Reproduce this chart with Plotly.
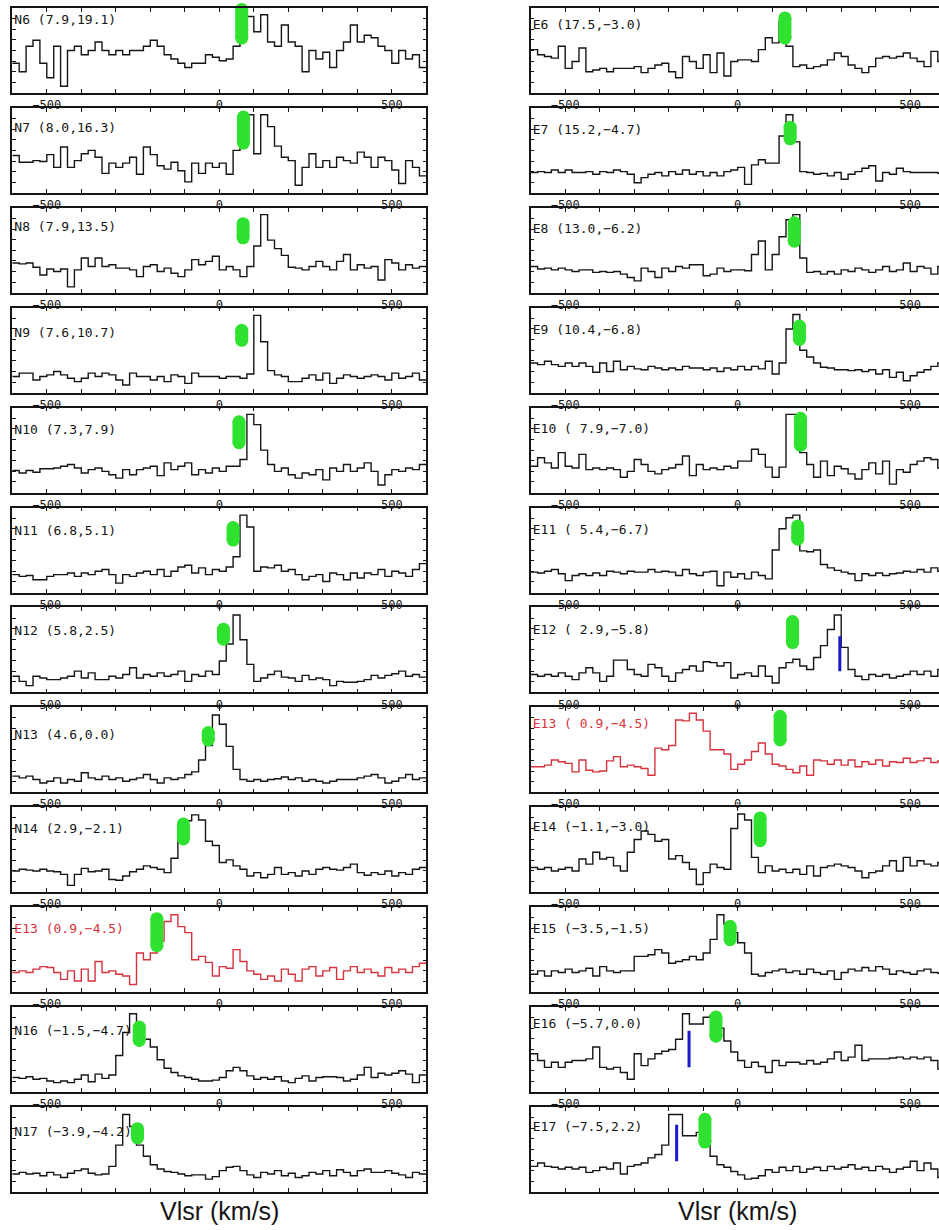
import plotly.graph_objects as go

# ---------------- data ----------------
velocity = [-590, -570, -550, -530, -510, -490, -470, -450, -430, -410,
            -390, -370, -350, -330, -310, -290, -270, -250, -230, -210,
            -190, -170, -150, -130, -110, -90, -70, -50, -30, -10,
            10, 30, 50, 70, 90, 110, 130, 150, 170, 190,
            210, 230, 250, 270, 290, 310, 330, 350, 370, 390,
            410, 430, 450, 470, 490, 510, 530, 550, 570, 590]

x_tick_values = [-500, -400, -300, -200, -100, 0, 100, 200, 300, 400, 500]
x_tick_labels = ["\u2212500", "", "", "", "", "0", "", "", "", "", "500"]

# left column spectra (normalised to panel height)
n6 = [0.35, 0.25, 0.55, 0.62, 0.35, 0.18, 0.55, 0.08, 0.50, 0.55,
      0.45, 0.50, 0.60, 0.50, 0.45, 0.50, 0.45, 0.50, 0.50, 0.55,
      0.62, 0.55, 0.45, 0.40, 0.35, 0.30, 0.35, 0.35, 0.45, 0.42,
      0.38, 0.40, 0.55, 0.75, 0.90, 0.72, 0.92, 0.60, 0.55, 0.80,
      0.60, 0.55, 0.25, 0.50, 0.40, 0.48, 0.30, 0.50, 0.60, 0.80,
      0.60, 0.68, 0.65, 0.55, 0.50, 0.35, 0.50, 0.40, 0.45, 0.30]
n7 = [0.44, 0.36, 0.36, 0.38, 0.37, 0.45, 0.30, 0.54, 0.30, 0.38,
      0.46, 0.50, 0.42, 0.23, 0.35, 0.30, 0.35, 0.42, 0.22, 0.54,
      0.45, 0.32, 0.28, 0.36, 0.26, 0.13, 0.35, 0.23, 0.35, 0.30,
      0.35, 0.22, 0.50, 0.58, 0.92, 0.46, 0.92, 0.78, 0.55, 0.42,
      0.38, 0.09, 0.30, 0.46, 0.30, 0.38, 0.30, 0.42, 0.38, 0.35,
      0.48, 0.42, 0.30, 0.42, 0.38, 0.27, 0.11, 0.38, 0.30, 0.20]
n8 = [0.35, 0.34, 0.35, 0.30, 0.21, 0.28, 0.25, 0.28, 0.07, 0.27,
      0.41, 0.31, 0.41, 0.31, 0.33, 0.29, 0.29, 0.27, 0.19, 0.31,
      0.33, 0.25, 0.29, 0.23, 0.19, 0.27, 0.39, 0.33, 0.37, 0.43,
      0.27, 0.31, 0.27, 0.19, 0.31, 0.55, 0.92, 0.62, 0.52, 0.44,
      0.30, 0.29, 0.27, 0.31, 0.37, 0.31, 0.27, 0.37, 0.45, 0.27,
      0.33, 0.29, 0.31, 0.15, 0.39, 0.35, 0.27, 0.33, 0.29, 0.31]
n9 = [0.19, 0.23, 0.23, 0.15, 0.19, 0.21, 0.25, 0.21, 0.17, 0.13,
      0.17, 0.23, 0.19, 0.23, 0.21, 0.15, 0.09, 0.23, 0.19, 0.19,
      0.15, 0.19, 0.13, 0.21, 0.19, 0.11, 0.23, 0.19, 0.19, 0.19,
      0.17, 0.19, 0.19, 0.17, 0.22, 0.91, 0.60, 0.26, 0.21, 0.19,
      0.13, 0.13, 0.17, 0.21, 0.15, 0.23, 0.11, 0.17, 0.21, 0.19,
      0.17, 0.19, 0.21, 0.19, 0.15, 0.23, 0.17, 0.19, 0.23, 0.15]
n10 = [0.26, 0.23, 0.26, 0.24, 0.28, 0.28, 0.29, 0.31, 0.33, 0.29,
       0.23, 0.27, 0.29, 0.25, 0.21, 0.17, 0.27, 0.21, 0.27, 0.29,
       0.31, 0.20, 0.35, 0.27, 0.31, 0.35, 0.21, 0.27, 0.23, 0.29,
       0.25, 0.31, 0.31, 0.39, 0.92, 0.80, 0.50, 0.33, 0.25, 0.29,
       0.21, 0.17, 0.23, 0.21, 0.27, 0.15, 0.29, 0.25, 0.33, 0.25,
       0.29, 0.35, 0.25, 0.09, 0.21, 0.27, 0.25, 0.29, 0.27, 0.33]
n11 = [0.21, 0.19, 0.20, 0.15, 0.15, 0.19, 0.21, 0.21, 0.23, 0.19,
       0.23, 0.21, 0.25, 0.27, 0.21, 0.11, 0.21, 0.19, 0.23, 0.25,
       0.21, 0.27, 0.19, 0.25, 0.30, 0.32, 0.23, 0.29, 0.21, 0.27,
       0.25, 0.30, 0.42, 0.91, 0.77, 0.25, 0.30, 0.29, 0.32, 0.25,
       0.27, 0.21, 0.15, 0.19, 0.21, 0.13, 0.23, 0.21, 0.15, 0.23,
       0.17, 0.23, 0.21, 0.27, 0.19, 0.25, 0.23, 0.19, 0.27, 0.34]
n12 = [0.19, 0.13, 0.08, 0.19, 0.17, 0.15, 0.15, 0.17, 0.19, 0.25,
       0.17, 0.23, 0.15, 0.15, 0.19, 0.17, 0.21, 0.29, 0.17, 0.21,
       0.19, 0.23, 0.19, 0.21, 0.25, 0.13, 0.21, 0.19, 0.25, 0.21,
       0.37, 0.57, 0.91, 0.62, 0.33, 0.13, 0.17, 0.21, 0.25, 0.18,
       0.17, 0.13, 0.20, 0.15, 0.17, 0.15, 0.08, 0.13, 0.12, 0.12,
       0.13, 0.15, 0.20, 0.17, 0.20, 0.22, 0.25, 0.19, 0.21, 0.18]
n13 = [0.19, 0.17, 0.19, 0.15, 0.11, 0.13, 0.17, 0.11, 0.15, 0.13,
       0.23, 0.17, 0.15, 0.19, 0.15, 0.17, 0.13, 0.15, 0.17, 0.21,
       0.15, 0.11, 0.17, 0.15, 0.17, 0.21, 0.24, 0.38, 0.55, 0.91,
       0.80, 0.54, 0.27, 0.15, 0.13, 0.15, 0.13, 0.15, 0.16, 0.18,
       0.15, 0.17, 0.13, 0.15, 0.13, 0.11, 0.13, 0.15, 0.15, 0.15,
       0.17, 0.19, 0.21, 0.17, 0.11, 0.13, 0.17, 0.21, 0.15, 0.17]
n14 = [0.25, 0.27, 0.26, 0.25, 0.27, 0.25, 0.24, 0.21, 0.08, 0.21,
       0.28, 0.24, 0.25, 0.27, 0.15, 0.14, 0.19, 0.24, 0.27, 0.31,
       0.29, 0.27, 0.23, 0.40, 0.66, 0.84, 0.91, 0.85, 0.60, 0.55,
       0.35, 0.38, 0.31, 0.27, 0.19, 0.23, 0.17, 0.21, 0.29, 0.21,
       0.23, 0.19, 0.25, 0.21, 0.27, 0.29, 0.27, 0.26, 0.29, 0.33,
       0.23, 0.20, 0.23, 0.21, 0.25, 0.19, 0.23, 0.21, 0.27, 0.29]
e13_left = [0.23, 0.25, 0.23, 0.27, 0.30, 0.29, 0.23, 0.15, 0.25, 0.13,
            0.27, 0.13, 0.36, 0.23, 0.25, 0.21, 0.19, 0.09, 0.46, 0.38,
            0.46, 0.60, 0.83, 0.91, 0.77, 0.70, 0.38, 0.42, 0.35, 0.19,
            0.30, 0.28, 0.50, 0.36, 0.25, 0.21, 0.15, 0.19, 0.13, 0.27,
            0.21, 0.13, 0.27, 0.30, 0.19, 0.25, 0.29, 0.15, 0.25, 0.30,
            0.23, 0.27, 0.23, 0.19, 0.29, 0.23, 0.27, 0.23, 0.30, 0.34]
n16 = [0.17, 0.16, 0.18, 0.15, 0.16, 0.13, 0.11, 0.13, 0.11, 0.15,
       0.20, 0.12, 0.21, 0.16, 0.20, 0.43, 0.70, 0.92, 0.80, 0.62,
       0.53, 0.38, 0.28, 0.23, 0.19, 0.17, 0.15, 0.13, 0.13, 0.14,
       0.17, 0.25, 0.29, 0.25, 0.19, 0.15, 0.17, 0.15, 0.18, 0.13,
       0.11, 0.16, 0.19, 0.13, 0.17, 0.18, 0.18, 0.17, 0.13, 0.15,
       0.20, 0.29, 0.17, 0.22, 0.20, 0.22, 0.25, 0.21, 0.11, 0.20]
n17 = [0.21, 0.23, 0.21, 0.22, 0.19, 0.23, 0.20, 0.17, 0.22, 0.25,
       0.27, 0.22, 0.20, 0.21, 0.30, 0.55, 0.91, 0.77, 0.55, 0.42,
       0.32, 0.27, 0.24, 0.23, 0.21, 0.19, 0.20, 0.20, 0.15, 0.18,
       0.25, 0.29, 0.30, 0.25, 0.20, 0.17, 0.23, 0.21, 0.25, 0.19,
       0.22, 0.17, 0.19, 0.23, 0.21, 0.25, 0.19, 0.26, 0.23, 0.19,
       0.25, 0.27, 0.23, 0.23, 0.25, 0.22, 0.20, 0.17, 0.23, 0.21]

# right column spectra
e6 = [0.51, 0.45, 0.43, 0.41, 0.55, 0.29, 0.37, 0.53, 0.25, 0.27,
      0.29, 0.25, 0.29, 0.29, 0.29, 0.31, 0.24, 0.29, 0.33, 0.35,
      0.25, 0.18, 0.43, 0.37, 0.29, 0.45, 0.24, 0.47, 0.20, 0.37,
      0.39, 0.39, 0.37, 0.51, 0.65, 0.59, 0.84, 0.55, 0.31, 0.33,
      0.29, 0.31, 0.33, 0.39, 0.47, 0.43, 0.33, 0.29, 0.24, 0.31,
      0.41, 0.43, 0.41, 0.43, 0.47, 0.41, 0.37, 0.31, 0.49, 0.37]
e7 = [0.24, 0.25, 0.24, 0.27, 0.24, 0.27, 0.24, 0.24, 0.25, 0.22,
      0.25, 0.24, 0.27, 0.25, 0.22, 0.12, 0.18, 0.22, 0.24, 0.20,
      0.25, 0.22, 0.27, 0.22, 0.25, 0.20, 0.24, 0.20, 0.25, 0.27,
      0.30, 0.10, 0.33, 0.39, 0.35, 0.35, 0.67, 0.92, 0.60, 0.25,
      0.24, 0.22, 0.23, 0.20, 0.24, 0.16, 0.22, 0.25, 0.29, 0.32,
      0.14, 0.24, 0.22, 0.29, 0.25, 0.24, 0.24, 0.24, 0.24, 0.23]
e8 = [0.31, 0.28, 0.29, 0.27, 0.29, 0.27, 0.25, 0.27, 0.27, 0.24,
      0.25, 0.24, 0.25, 0.22, 0.18, 0.14, 0.29, 0.25, 0.18, 0.29,
      0.25, 0.31, 0.29, 0.33, 0.33, 0.20, 0.22, 0.29, 0.25, 0.27,
      0.27, 0.26, 0.45, 0.61, 0.27, 0.45, 0.66, 0.86, 0.92, 0.41,
      0.24, 0.25, 0.22, 0.25, 0.22, 0.27, 0.25, 0.29, 0.27, 0.24,
      0.27, 0.31, 0.25, 0.27, 0.35, 0.25, 0.31, 0.29, 0.22, 0.31]
e9 = [0.35, 0.33, 0.37, 0.33, 0.31, 0.35, 0.31, 0.35, 0.31, 0.24,
      0.35, 0.25, 0.37, 0.27, 0.31, 0.28, 0.27, 0.31, 0.29, 0.27,
      0.29, 0.27, 0.31, 0.29, 0.29, 0.27, 0.29, 0.25, 0.29, 0.27,
      0.31, 0.27, 0.31, 0.28, 0.37, 0.22, 0.35, 0.75, 0.92, 0.50,
      0.42, 0.35, 0.30, 0.29, 0.27, 0.27, 0.26, 0.27, 0.25, 0.27,
      0.22, 0.27, 0.18, 0.24, 0.14, 0.20, 0.24, 0.27, 0.31, 0.35]
e10 = [0.31, 0.41, 0.35, 0.29, 0.47, 0.31, 0.29, 0.45, 0.27, 0.29,
       0.27, 0.29, 0.27, 0.18, 0.25, 0.39, 0.33, 0.25, 0.22, 0.27,
       0.29, 0.33, 0.43, 0.20, 0.33, 0.27, 0.29, 0.27, 0.31, 0.29,
       0.37, 0.37, 0.51, 0.45, 0.30, 0.18, 0.30, 0.92, 0.92, 0.47,
       0.33, 0.18, 0.37, 0.20, 0.31, 0.28, 0.22, 0.16, 0.27, 0.35,
       0.22, 0.37, 0.10, 0.27, 0.24, 0.33, 0.37, 0.41, 0.39, 0.29]
e11 = [0.24, 0.23, 0.25, 0.27, 0.22, 0.14, 0.20, 0.22, 0.20, 0.23,
       0.20, 0.25, 0.24, 0.22, 0.25, 0.24, 0.24, 0.27, 0.24, 0.25,
       0.24, 0.20, 0.27, 0.22, 0.20, 0.24, 0.25, 0.08, 0.24, 0.18,
       0.22, 0.16, 0.24, 0.20, 0.16, 0.50, 0.75, 0.88, 0.91, 0.49,
       0.48, 0.50, 0.33, 0.29, 0.26, 0.24, 0.22, 0.14, 0.22, 0.20,
       0.23, 0.20, 0.22, 0.23, 0.25, 0.24, 0.27, 0.24, 0.29, 0.25]
e12 = [0.21, 0.19, 0.21, 0.19, 0.23, 0.19, 0.15, 0.23, 0.29, 0.23,
       0.13, 0.19, 0.38, 0.38, 0.27, 0.21, 0.19, 0.33, 0.29, 0.19,
       0.13, 0.23, 0.27, 0.31, 0.25, 0.36, 0.35, 0.31, 0.35, 0.17,
       0.21, 0.23, 0.19, 0.31, 0.19, 0.11, 0.29, 0.35, 0.39, 0.31,
       0.27, 0.41, 0.55, 0.74, 0.91, 0.53, 0.27, 0.19, 0.15, 0.21,
       0.19, 0.21, 0.17, 0.19, 0.21, 0.25, 0.21, 0.25, 0.19, 0.27]
e13_right = [0.30, 0.30, 0.32, 0.38, 0.36, 0.34, 0.24, 0.38, 0.26, 0.24,
             0.25, 0.37, 0.42, 0.30, 0.32, 0.30, 0.28, 0.20, 0.52, 0.50,
             0.55, 0.85, 0.84, 0.93, 0.85, 0.72, 0.50, 0.50, 0.45, 0.27,
             0.33, 0.38, 0.48, 0.58, 0.45, 0.33, 0.31, 0.27, 0.23, 0.31,
             0.20, 0.38, 0.37, 0.33, 0.38, 0.32, 0.38, 0.30, 0.36, 0.33,
             0.38, 0.31, 0.36, 0.35, 0.40, 0.35, 0.37, 0.40, 0.35, 0.37]
e14 = [0.29, 0.27, 0.29, 0.25, 0.27, 0.29, 0.25, 0.39, 0.33, 0.47,
       0.39, 0.41, 0.31, 0.25, 0.47, 0.62, 0.72, 0.68, 0.60, 0.62,
       0.39, 0.43, 0.35, 0.27, 0.09, 0.23, 0.33, 0.29, 0.27, 0.75,
       0.92, 0.85, 0.41, 0.23, 0.31, 0.25, 0.27, 0.23, 0.27, 0.21,
       0.31, 0.19, 0.29, 0.31, 0.33, 0.31, 0.29, 0.25, 0.17, 0.23,
       0.25, 0.31, 0.37, 0.25, 0.41, 0.31, 0.37, 0.33, 0.31, 0.35]
e15 = [0.21, 0.25, 0.19, 0.25, 0.23, 0.27, 0.23, 0.25, 0.28, 0.19,
       0.30, 0.25, 0.23, 0.25, 0.25, 0.42, 0.42, 0.44, 0.50, 0.46,
       0.34, 0.36, 0.38, 0.42, 0.38, 0.46, 0.62, 0.91, 0.80, 0.70,
       0.58, 0.46, 0.21, 0.19, 0.23, 0.25, 0.27, 0.23, 0.25, 0.21,
       0.27, 0.23, 0.21, 0.25, 0.15, 0.23, 0.27, 0.25, 0.29, 0.25,
       0.30, 0.27, 0.21, 0.25, 0.23, 0.21, 0.25, 0.27, 0.23, 0.22]
e16 = [0.45, 0.37, 0.29, 0.35, 0.29, 0.35, 0.37, 0.37, 0.39, 0.53,
       0.29, 0.27, 0.29, 0.23, 0.15, 0.45, 0.31, 0.39, 0.45, 0.48,
       0.50, 0.62, 0.92, 0.80, 0.80, 0.88, 0.90, 0.75, 0.60, 0.47,
       0.37, 0.29, 0.35, 0.30, 0.23, 0.37, 0.31, 0.35, 0.35, 0.33,
       0.37, 0.33, 0.35, 0.39, 0.47, 0.37, 0.41, 0.55, 0.37, 0.39,
       0.39, 0.39, 0.40, 0.41, 0.39, 0.41, 0.39, 0.41, 0.37, 0.27]
e17 = [0.30, 0.34, 0.30, 0.29, 0.27, 0.29, 0.27, 0.29, 0.23, 0.25,
       0.29, 0.27, 0.34, 0.21, 0.30, 0.32, 0.34, 0.40, 0.44, 0.55,
       0.91, 0.91, 0.66, 0.66, 0.70, 0.55, 0.42, 0.32, 0.29, 0.24,
       0.20, 0.15, 0.16, 0.19, 0.26, 0.23, 0.29, 0.25, 0.30, 0.23,
       0.27, 0.29, 0.25, 0.30, 0.27, 0.29, 0.32, 0.27, 0.29, 0.25,
       0.30, 0.27, 0.23, 0.27, 0.29, 0.36, 0.25, 0.34, 0.27, 0.17]

left_labels = ["N6 (7.9,19.1)", "N7 (8.0,16.3)", "N8 (7.9,13.5)", "N9 (7.6,10.7)",
               "N10 (7.3,7.9)", "N11 (6.8,5.1)", "N12 (5.8,2.5)", "N13 (4.6,0.0)",
               "N14 (2.9,\u22122.1)", "E13 (0.9,\u22124.5)", "N16 (\u22121.5,\u22124.7)",
               "N17 (\u22123.9,\u22124.2)"]
right_labels = ["E6 (17.5,\u22123.0)", "E7 (15.2,\u22124.7)", "E8 (13.0,\u22126.2)",
                "E9 (10.4,\u22126.8)", "E10 ( 7.9,\u22127.0)", "E11 ( 5.4,\u22126.7)",
                "E12 ( 2.9,\u22125.8)", "E13 ( 0.9,\u22124.5)", "E14 (\u22121.1,\u22123.0)",
                "E15 (\u22123.5,\u22121.5)", "E16 (\u22125.7,0.0)", "E17 (\u22127.5,2.2)"]
left_spectra = [n6, n7, n8, n9, n10, n11, n12, n13, n14, e13_left, n16, n17]
right_spectra = [e6, e7, e8, e9, e10, e11, e12, e13_right, e14, e15, e16, e17]

# highlighted (red) panels
left_red = [False] * 9 + [True] + [False] * 2
right_red = [False] * 7 + [True] + [False] * 4

# label heights (fraction of panel)
left_label_y = [0.85, 0.75, 0.76, 0.69, 0.73, 0.72, 0.71, 0.67, 0.74, 0.73, 0.71, 0.69]
right_label_y = [0.79, 0.73, 0.74, 0.73, 0.74, 0.73, 0.73, 0.80, 0.76, 0.73, 0.79, 0.75]

# green markers: velocity and vertical extent (fraction of panel)
left_green_v = [65, 70, 69, 65, 57, 40, 12, -32, -104, -181, -232, -237]
left_green_lo = [0.57, 0.51, 0.57, 0.54, 0.51, 0.54, 0.55, 0.54, 0.55, 0.47, 0.53, 0.56]
left_green_hi = [1.06, 0.97, 0.89, 0.81, 0.91, 0.84, 0.82, 0.78, 0.88, 0.94, 0.84, 0.82]
right_green_v = [137, 152, 164, 179, 182, 174, 159, 123, 65, -22, -63, -95]
right_green_lo = [0.57, 0.56, 0.53, 0.55, 0.48, 0.55, 0.51, 0.54, 0.53, 0.54, 0.58, 0.51]
right_green_hi = [0.96, 0.85, 0.90, 0.86, 0.95, 0.86, 0.91, 0.97, 0.95, 0.85, 0.96, 0.93]

# blue markers (right column panel index, velocity, extent)
blue_panel = [6, 10, 11]
blue_v = [296, -141, -177]
blue_lo = [0.25, 0.29, 0.36]
blue_hi = [0.66, 0.72, 0.79]

# ---------------- layout geometry ----------------
FIG_W, FIG_H = 939, 1230
TOP0, PITCH, PANEL_H = 8.0, 99.9, 85.0
PX_PER_KMS = 414.0 / 1200.0
LEFT_X0 = 12.3
RIGHT_X0 = 530.7
GREEN = "#2fe22f"
BLUE = "#1a1acc"
RED = "#d8323c"
BLACK = "#151515"
GREEN_W = 13

fig = go.Figure()
half = (velocity[1] - velocity[0]) / 2.0
xs = [v - half for v in velocity] + [velocity[-1] + half]


def axis_suffix(n):
    return "" if n == 1 else str(n)


def add_panel(n, col, row, spec, label, label_y, red, gv, glo, ghi, blue):
    s = axis_suffix(n)
    xa, ya = "x" + s, "y" + s
    color = RED if red else BLACK
    ys = list(spec) + [spec[-1]]
    fig.add_trace(go.Scatter(x=xs, y=ys, mode="lines",
                             line=dict(color=color, width=1.4, shape="hv"),
                             xaxis=xa, yaxis=ya, hoverinfo="skip"))
    fig.add_trace(go.Scatter(x=[-594], y=[label_y], mode="text", text=[label],
                             textposition="middle right", cliponaxis=False,
                             textfont=dict(family="DejaVu Sans Mono", size=13, color=color),
                             xaxis=xa, yaxis=ya, hoverinfo="skip"))
    if blue is not None:
        bv, blo, bhi = blue
        fig.add_trace(go.Scatter(x=[bv, bv], y=[blo, bhi], mode="lines",
                                 line=dict(color=BLUE, width=3),
                                 xaxis=xa, yaxis=ya, hoverinfo="skip"))
    r = (GREEN_W / 2.0) / PANEL_H
    fig.add_trace(go.Scatter(x=[gv, gv], y=[glo + r, ghi - r], mode="lines+markers",
                             line=dict(color=GREEN, width=GREEN_W),
                             marker=dict(size=GREEN_W, color=GREEN, line=dict(width=0)),
                             cliponaxis=False, xaxis=xa, yaxis=ya, hoverinfo="skip"))

    top = TOP0 + PITCH * row
    y_dom = [1 - (top + PANEL_H) / FIG_H, 1 - top / FIG_H]
    x0 = LEFT_X0 if col == 0 else RIGHT_X0
    x1 = min(x0 + 1200 * PX_PER_KMS, FIG_W)
    xmax = -600 + (x1 - x0) / PX_PER_KMS
    last_row = row == 11
    fig.layout["xaxis" + s] = dict(
        domain=[x0 / FIG_W, x1 / FIG_W], range=[-600, xmax], anchor=ya,
        tickmode="array", tickvals=x_tick_values, ticktext=x_tick_labels,
        ticks="inside", ticklen=4, tickwidth=1.2, tickcolor=BLACK,
        showline=True, linecolor=BLACK, linewidth=1.5, mirror="ticks",
        showgrid=False, zeroline=False, showticklabels=not last_row,
        tickfont=dict(family="DejaVu Sans Mono", size=12, color=BLACK),
        fixedrange=True)
    fig.layout["yaxis" + s] = dict(
        domain=y_dom, range=[0, 1], anchor=xa,
        tickmode="array", tickvals=[0.125, 0.25, 0.375, 0.5, 0.625, 0.75, 0.875],
        ticks="inside", ticklen=4, tickwidth=1.0, tickcolor=BLACK,
        showline=True, linecolor=BLACK, linewidth=1.5,
        mirror="ticks" if col == 0 else False,
        showgrid=False, zeroline=False, showticklabels=False, fixedrange=True)


for i in range(12):
    add_panel(i + 1, 0, i, left_spectra[i], left_labels[i], left_label_y[i], left_red[i],
              left_green_v[i], left_green_lo[i], left_green_hi[i], None)
for i in range(12):
    blue = None
    if i in blue_panel:
        j = blue_panel.index(i)
        blue = (blue_v[j], blue_lo[j], blue_hi[j])
    add_panel(13 + i, 1, i, right_spectra[i], right_labels[i], right_label_y[i], right_red[i],
              right_green_v[i], right_green_lo[i], right_green_hi[i], blue)

for cx in [(LEFT_X0 + 600 * PX_PER_KMS) / FIG_W, (RIGHT_X0 + 600 * PX_PER_KMS) / FIG_W]:
    fig.add_annotation(x=cx, y=1 - 1211 / FIG_H, xref="paper", yref="paper",
                       text="Vlsr (km/s)", showarrow=False, xanchor="center", yanchor="middle",
                       font=dict(family="Liberation Sans", size=25, color=BLACK))

fig.update_layout(width=FIG_W, height=FIG_H, margin=dict(l=0, r=0, t=0, b=0),
                  paper_bgcolor="white", plot_bgcolor="white", showlegend=False)
fig.write_html("out.html")
